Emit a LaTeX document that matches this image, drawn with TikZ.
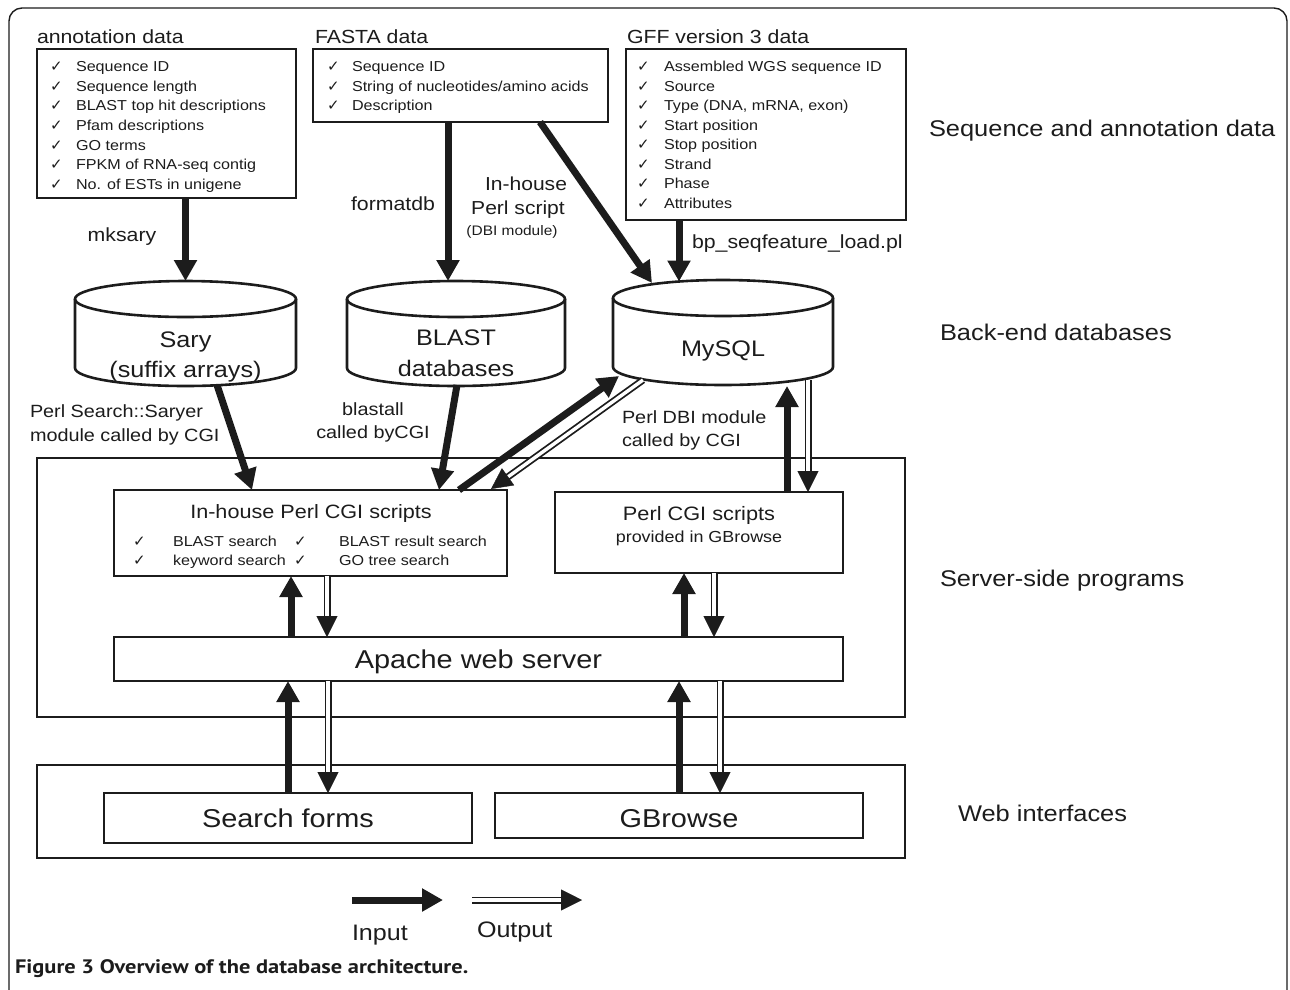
\documentclass[tikz,border=0pt]{standalone}
\usepackage{fontspec}
\setmainfont[FakeStretch=1.12]{Liberation Sans}
\newfontfamily\ckfont{DejaVu Sans}
\newfontfamily\capfont[FakeStretch=1.15]{PT Sans}
\usetikzlibrary{arrows.meta,calc}
\definecolor{ink}{RGB}{28,28,28}
\newcommand{\fsz}[1]{\fontsize{#1}{#1}\selectfont}
\newcommand{\ckm}{{\ckfont\fsz{15}✓}}
\tikzset{
  box/.style={draw=ink, line width=2.2pt, inner sep=0pt, outer sep=0pt, anchor=north west},
  txt/.style={inner sep=0pt, outer sep=0pt, text=ink, anchor=base},
  txtw/.style={inner sep=0pt, outer sep=0pt, text=ink, anchor=base west},
  inarr/.style={draw=ink, line width=7pt, -{Triangle[length=21pt,width=22pt]}},
  outline/.style={draw=ink, double=white, double distance=3.4pt, line width=1.8pt, shorten >=18pt},
  outtip/.style={draw=ink, line width=0.4pt, -{Triangle[length=21pt,width=21pt]}},
  cyl/.style={draw=ink, line width=2.6pt},
}
\newcommand{\outarrow}[2]{\draw[outline] (#1) -- (#2); \draw[outtip] ($(#2)!21pt!(#1)$) -- (#2);}
\begin{document}
\begin{tikzpicture}[x=1pt,y=-1pt]
\useasboundingbox (0,0) rectangle (1290,989);
\draw[ink, line width=1.4pt, rounded corners=13pt] (9,1010) -- (9,8) -- (1287,8) -- (1287,1010);

% ---------- data boxes ----------
\node[box, minimum width=259, minimum height=149] (ann) at (37,49) {};
\node[box, minimum width=295, minimum height=73] (fasta) at (313,49) {};
\node[box, minimum width=280, minimum height=171] (gff) at (626,49) {};

\node[txtw, font=\fsz{19}] (annT) at (37,43) {annotation data};
\node[txtw, font=\fsz{19}] (fastaT) at (315,43) {FASTA data};
\node[txtw, font=\fsz{19}] (gffT) at (627,43) {GFF version 3 data};

\foreach \t [count=\i] in {Sequence ID, Sequence length, BLAST top hit descriptions, Pfam descriptions, GO terms, FPKM of RNA-seq contig, No. of ESTs in unigene}
  \node[txtw, font=\fsz{14.4}, name=annI\i] at (50,{71.7+(\i-1)*19.6}) {\makebox[26pt][l]{\ckm}\t};
\foreach \t [count=\i] in {Sequence ID, String of nucleotides/amino acids, Description}
  \node[txtw, font=\fsz{14.4}, name=fasI\i] at (327,{71.7+(\i-1)*19.6}) {\makebox[25pt][l]{\ckm}\t};
\foreach \t [count=\i] in {Assembled WGS sequence ID, Source, {Type (DNA, mRNA, exon)}, Start position, Stop position, Strand, Phase, Attributes}
  \node[txtw, font=\fsz{14.4}, name=gffI\i] at (637,{71.7+(\i-1)*19.5}) {\makebox[27pt][l]{\ckm}\t};

% ---------- side labels ----------
\node[txtw, font=\fsz{22.7}] (lab1) at (929,136) {Sequence and annotation data};
\node[txtw, font=\fsz{22.7}] (lab2) at (940,340) {Back-end databases};
\node[txtw, font=\fsz{22.7}] (lab3) at (940,586) {Server-side programs};
\node[txtw, font=\fsz{22.7}] (lab4) at (958,821) {Web interfaces};

% ---------- cylinders ----------
\node[inner sep=0, outer sep=0, minimum width=221, minimum height=105] (sary) at (185.5,333.5) {};
\draw[cyl] (75,299) -- (75,368) arc[start angle=180, end angle=0, x radius=110.5, y radius=18] -- (296,299);
\draw[cyl] (185.5,299) ellipse [x radius=110.5, y radius=18];
\node[txt, font=\fsz{22.5}] (saryT1) at (185.5,347) {Sary};
\node[txt, font=\fsz{22.5}] (saryT2) at (185.5,377) {(suffix arrays)};

\node[inner sep=0, outer sep=0, minimum width=218, minimum height=105] (blast) at (456,333.5) {};
\draw[cyl] (347,299) -- (347,368) arc[start angle=180, end angle=0, x radius=109, y radius=18] -- (565,299);
\draw[cyl] (456,299) ellipse [x radius=109, y radius=18];
\node[txt, font=\fsz{22.5}] (blastT1) at (456,345) {BLAST};
\node[txt, font=\fsz{22.5}] (blastT2) at (456,376) {databases};

\node[inner sep=0, outer sep=0, minimum width=220, minimum height=105] (mysql) at (723,332.5) {};
\draw[cyl] (613,298) -- (613,367) arc[start angle=180, end angle=0, x radius=110, y radius=18] -- (833,298);
\draw[cyl] (723,298) ellipse [x radius=110, y radius=18];
\node[txt, font=\fsz{22.5}] (mysqlT) at (723,356) {MySQL};

% ---------- arrows top -> databases ----------
\draw[inarr] (sary.north |- ann.south) -- (sary.north);
\node[txt, font=\fsz{19}] (mks) at (122,241) {mksary};

\coordinate (f1) at ($(fasta.south)+(-12.5,0)$);
\draw[inarr] (f1) -- (f1 |- blast.north);
\node[txt, font=\fsz{19}] (fdb) at (393,210) {formatdb};

\coordinate (f2) at ($(fasta.south east)+(-68,0)$);
\coordinate (m1) at ($(mysql.north)+(-71,3)$);
\draw[inarr] (f2) -- (m1);
\node[txt, font=\fsz{18.8}] (ih1) at (526,190) {In-house};
\node[txt, font=\fsz{18.8}] (ih2) at (518,214) {Perl script};
\node[txt, font=\fsz{13.8}] (ih3) at (512,235) {(DBI module)};

\coordinate (g1) at ($(gff.south)+(-87,0)$);
\draw[inarr] (g1) -- ($(g1 |- mysql.north)+(0,1.5)$);
\node[txtw, font=\fsz{19}] (bp) at (692,248) {bp\_seqfeature\_load.pl};

% ---------- server side ----------
\node[box, minimum width=868, minimum height=259] (server) at (37,458) {};
\node[box, minimum width=393, minimum height=86] (cgi) at (114,490) {};
\node[txt, font=\fsz{19.3}] (cgiT) at (311,518) {In-house Perl CGI scripts};
\node[txtw, font=\fsz{14.4}] (cgiC1) at (133,546) {\ckm};
\node[txtw, font=\fsz{14.4}] (cgiI1) at (173,546) {BLAST search};
\node[txtw, font=\fsz{14.4}] (cgiC2) at (294,546) {\ckm};
\node[txtw, font=\fsz{14.4}] (cgiI2) at (339,546) {BLAST result search};
\node[txtw, font=\fsz{14.4}] (cgiC3) at (133,565) {\ckm};
\node[txtw, font=\fsz{14.4}] (cgiI3) at (173,565) {keyword search};
\node[txtw, font=\fsz{14.4}] (cgiC4) at (294,565) {\ckm};
\node[txtw, font=\fsz{14.4}] (cgiI4) at (339,565) {GO tree search};

\node[box, minimum width=288, minimum height=81] (gcgi) at (555,492) {};
\node[txt, font=\fsz{19.4}] (gcgiT1) at (699,520) {Perl CGI scripts};
\node[txt, font=\fsz{16}] (gcgiT2) at (699,542) {provided in GBrowse};

\node[box, minimum width=729, minimum height=44] (apache) at (114,637) {};
\node[txt, font=\fsz{25.8}] (apacheT) at (478.5,668) {Apache web server};

% database -> CGI arrows
\draw[inarr] ($(sary.south)+(31.5,-1)$) -- ($(cgi.north west)+(138,0)$);
\node[txtw, font=\fsz{17.7}] (pss1) at (30,417) {Perl Search::Saryer};
\node[txtw, font=\fsz{17.7}] (pss2) at (30,441) {module called by CGI};

\draw[inarr] ($(blast.south)+(1,-1)$) -- ($(cgi.north west)+(325,0)$);
\node[txt, font=\fsz{17.7}] (bl1) at (373,415) {blastall};
\node[txt, font=\fsz{17.7}] (bl2) at (373,438) {called byCGI};

\draw[inarr] ($(cgi.north west)+(345,0)$) -- ($(mysql.south)+(-104,-9)$);
\coordinate (d1s) at ($(mysql.south)+(-80,-5)$);
\coordinate (d1e) at ($(cgi.north west)+(377,-1)$);
\outarrow{d1s}{d1e}
\node[txtw, font=\fsz{17.7}] (dbi1) at (622,423) {Perl DBI module};
\node[txtw, font=\fsz{17.7}] (dbi2) at (622,446) {called by CGI};

\draw[inarr] ($(gcgi.north west)+(232,0)$) -- ($(mysql.south)+(64,1)$);
\coordinate (d2s) at ($(mysql.south)+(85,-5)$);
\coordinate (d2e) at ($(gcgi.north west)+(253,0)$);
\outarrow{d2s}{d2e}

% CGI <-> Apache
\coordinate (a1) at ($(apache.north west)+(177,0)$);
\draw[inarr] (a1) -- (a1 |- cgi.south);
\coordinate (a2) at ($(cgi.south west)+(213,0)$);
\coordinate (a2e) at (a2 |- apache.north);
\outarrow{a2}{a2e}
\coordinate (a3) at ($(apache.north west)+(570,0)$);
\draw[inarr] (a3) -- (a3 |- gcgi.south);
\coordinate (a4) at ($(gcgi.south west)+(159,0)$);
\coordinate (a4e) at (a4 |- apache.north);
\outarrow{a4}{a4e}

% ---------- web interfaces ----------
\node[box, minimum width=868, minimum height=93] (web) at (37,765) {};
\node[box, minimum width=368, minimum height=50] (sf) at (104,793) {};
\node[txt, font=\fsz{25.8}] (sfT) at (288,827) {Search forms};
\node[box, minimum width=368, minimum height=45] (gb) at (495,793) {};
\node[txt, font=\fsz{25.8}] (gbT) at (679,827) {GBrowse};

\coordinate (b1) at ($(sf.north west)+(184,0)$);
\draw[inarr] (b1) -- (b1 |- apache.south);
\coordinate (b2) at ($(apache.south west)+(214,0)$);
\coordinate (b2e) at (b2 |- sf.north);
\outarrow{b2}{b2e}
\coordinate (b3) at ($(gb.north west)+(184,0)$);
\draw[inarr] (b3) -- (b3 |- apache.south);
\coordinate (b4) at ($(apache.south west)+(606,0)$);
\coordinate (b4e) at (b4 |- gb.north);
\outarrow{b4}{b4e}

% ---------- legend ----------
\coordinate (inA) at (352,900);
\coordinate (inB) at (443,900);
\draw[inarr] (inA) -- (inB);
\node[txtw, font=\fsz{22.4}] (inT) at (352,940) {Input};
\coordinate (outA) at (472,900);
\coordinate (outB) at (582,900);
\outarrow{outA}{outB}
\node[txtw, font=\fsz{22.4}] (outT) at (477,937) {Output};

% ---------- caption ----------
\node[txtw, font=\capfont\bfseries\fsz{19.5}] (cap) at (15,973) {Figure 3 Overview of the database architecture.};
\end{tikzpicture}
\end{document}
